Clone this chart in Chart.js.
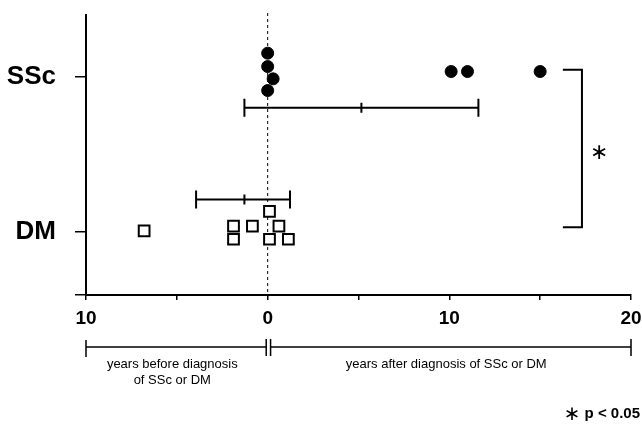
<!DOCTYPE html>
<html>
<head>
<meta charset="utf-8">
<script src="https://cdn.jsdelivr.net/npm/chart.js@4.4.1/dist/chart.umd.min.js"></script>
<style>
  html, body { margin: 0; padding: 0; background: #fff; }
  #wrap { width: 642px; height: 425px; }
</style>
</head>
<body>
<div id="wrap"><canvas id="c" width="642" height="425"></canvas></div>
<script>
// ---- data ----
const categories = ['DM', 'SSc'];          // y positions 1 and 2
const xTickLabels = ['10', '0', '10', '20'];
const sscYears  = [0, 0, 0.3, 0, 10.1, 11, 15];
const sscSpread = [0.15, 0.064, -0.015, -0.09, 0.032, 0.032, 0.032];
const dmYears   = [-6.8, -1.88, -0.84, 0.1, 0.62, -1.88, 0.1, 1.14];
const dmSpread  = [0.008, 0.04, 0.04, 0.134, 0.04, -0.045, -0.045, -0.045];
const errMean   = [-1.28, 5.16];   // DM, SSc
const errLow    = [-3.94, -1.28];
const errHigh   = [1.23, 11.6];
const errOffset = [0.211, -0.2];

const FONT = '"Liberation Sans", Arial, Helvetica, sans-serif';

const sscPts = sscYears.map((x, i) => ({ x: x, y: 2 + sscSpread[i] }));
const dmPts  = dmYears.map((x, i) => ({ x: x, y: 1 + dmSpread[i] }));

const Y_MIN = 0.597, Y_MAX = 2.395;

const annot = {
  id: 'annot',
  beforeDatasetsDraw(chart) {
    const ctx = chart.ctx, xs = chart.scales.x;
    const ca = chart.chartArea;
    ctx.save();
    ctx.strokeStyle = '#000';
    ctx.lineWidth = 1;
    ctx.setLineDash([3, 3]);
    const x0 = xs.getPixelForValue(0);
    ctx.beginPath();
    ctx.moveTo(x0, ca.top - 2);
    ctx.lineTo(x0, ca.bottom);
    ctx.stroke();
    ctx.restore();
  },
  afterDatasetsDraw(chart) {
    const ctx = chart.ctx, xs = chart.scales.x, ys = chart.scales.y;
    const ca = chart.chartArea;
    ctx.save();
    ctx.strokeStyle = '#000';
    ctx.fillStyle = '#000';
    ctx.lineWidth = 2;
    // error bars
    for (let i = 0; i < categories.length; i++) {
      const y = ys.getPixelForValue(i + 1 + errOffset[i]);
      const xl = xs.getPixelForValue(errLow[i]);
      const xh = xs.getPixelForValue(errHigh[i]);
      const xm = xs.getPixelForValue(errMean[i]);
      ctx.beginPath();
      ctx.moveTo(xl, y); ctx.lineTo(xh, y);
      ctx.moveTo(xl, y - 9); ctx.lineTo(xl, y + 9);
      ctx.moveTo(xh, y - 9); ctx.lineTo(xh, y + 9);
      ctx.moveTo(xm, y - 5); ctx.lineTo(xm, y + 5);
      ctx.stroke();
    }
    // significance bracket
    const bxl = xs.getPixelForValue(16.25), bxr = xs.getPixelForValue(17.3);
    const byt = ys.getPixelForValue(2.043), byb = ys.getPixelForValue(1.032);
    ctx.beginPath();
    ctx.moveTo(bxl, byt); ctx.lineTo(bxr, byt); ctx.lineTo(bxr, byb); ctx.lineTo(bxl, byb);
    ctx.stroke();
    ctx.font = '22px "DejaVu Sans", sans-serif';
    ctx.textAlign = 'center';
    ctx.textBaseline = 'middle';
    ctx.fillText('\u2217', xs.getPixelForValue(18.25), ys.getPixelForValue(1.51));

    // bottom period bracket
    const by = ca.bottom + 52;
    const xa = xs.getPixelForValue(-10), xb = xs.getPixelForValue(20);
    const xz1 = xs.getPixelForValue(-0.08), xz2 = xs.getPixelForValue(0.16);
    ctx.lineWidth = 1.5;
    ctx.beginPath();
    ctx.moveTo(xa, by); ctx.lineTo(xz1, by);
    ctx.moveTo(xz2, by); ctx.lineTo(xb, by);
    ctx.moveTo(xa, by - 7); ctx.lineTo(xa, by + 10);
    ctx.moveTo(xz1, by - 8); ctx.lineTo(xz1, by + 9);
    ctx.moveTo(xz2, by - 8); ctx.lineTo(xz2, by + 9);
    ctx.moveTo(xb, by - 8); ctx.lineTo(xb, by + 9);
    ctx.stroke();
    ctx.font = '13px ' + FONT;
    ctx.textAlign = 'center';
    ctx.textBaseline = 'middle';
    ctx.fillText('years before diagnosis', xs.getPixelForValue(-5.25), by + 17);
    ctx.fillText('of SSc or DM', xs.getPixelForValue(-5.25), by + 33);
    ctx.fillText('years after diagnosis of SSc or DM', xs.getPixelForValue(9.83), by + 17);

    // p-value note
    ctx.textAlign = 'right';
    ctx.font = 'bold 15px ' + FONT;
    ctx.fillText('p < 0.05', 640, 414);
    const w = ctx.measureText('p < 0.05').width;
    ctx.font = '20px "DejaVu Sans", sans-serif';
    ctx.fillText('\u2217', 640 - w - 4, 415);
    ctx.restore();
  }
};

new Chart(document.getElementById('c'), {
  type: 'scatter',
  data: {
    datasets: [
      {
        label: 'SSc',
        data: sscPts,
        pointStyle: 'circle',
        pointRadius: 6,
        pointHoverRadius: 6,
        backgroundColor: '#000',
        borderColor: '#000',
        borderWidth: 1
      },
      {
        label: 'DM',
        data: dmPts,
        pointStyle: 'rect',
        pointRadius: 7.6,
        pointHoverRadius: 7.6,
        backgroundColor: '#fff',
        borderColor: '#000',
        borderWidth: 2
      }
    ]
  },
  options: {
    responsive: false,
    animation: false,
    events: [],
    layout: { padding: { left: 0, right: 11, top: 15, bottom: 0 } },
    plugins: { legend: { display: false }, tooltip: { enabled: false } },
    scales: {
      x: {
        type: 'linear',
        min: -10, max: 20,
        afterBuildTicks(scale) {
          scale.ticks = [-10, -5, 0, 5, 10, 15, 20].map(v => ({ value: v }));
        },
        afterFit(scale) {
          scale.height = 130;
          scale.paddingLeft = 0; scale.paddingRight = 0;
        },
        border: { display: true, color: '#000', width: 2 },
        grid: { display: true, drawOnChartArea: false, drawTicks: true, tickLength: 5, color: '#000', lineWidth: 1.5 },
        ticks: {
          autoSkip: false,
          maxRotation: 0,
          padding: 7,
          color: '#000',
          font: { family: FONT, size: 19, weight: 'bold' },
          callback(v) {
            const idx = [-10, 0, 10, 20].indexOf(v);
            return idx >= 0 ? xTickLabels[idx] : '';
          }
        }
      },
      y: {
        type: 'linear',
        min: Y_MIN, max: Y_MAX,
        afterBuildTicks(scale) {
          scale.ticks = [{ value: Y_MIN }, { value: 1 }, { value: 2 }];
        },
        afterFit(scale) {
          scale.width = 86;
          scale.paddingTop = 0; scale.paddingBottom = 0;
        },
        border: { display: true, color: '#000', width: 2 },
        grid: { display: true, drawOnChartArea: false, drawTicks: true, tickLength: 11, color: '#000', lineWidth: 1.5 },
        ticks: {
          autoSkip: false,
          padding: 19,
          color: '#000',
          font: { family: FONT, size: 26, weight: 'bold' },
          callback(v) {
            if (v === 1) return categories[0];
            if (v === 2) return categories[1];
            return '';
          }
        }
      }
    }
  },
  plugins: [annot]
});
</script>
</body>
</html>
